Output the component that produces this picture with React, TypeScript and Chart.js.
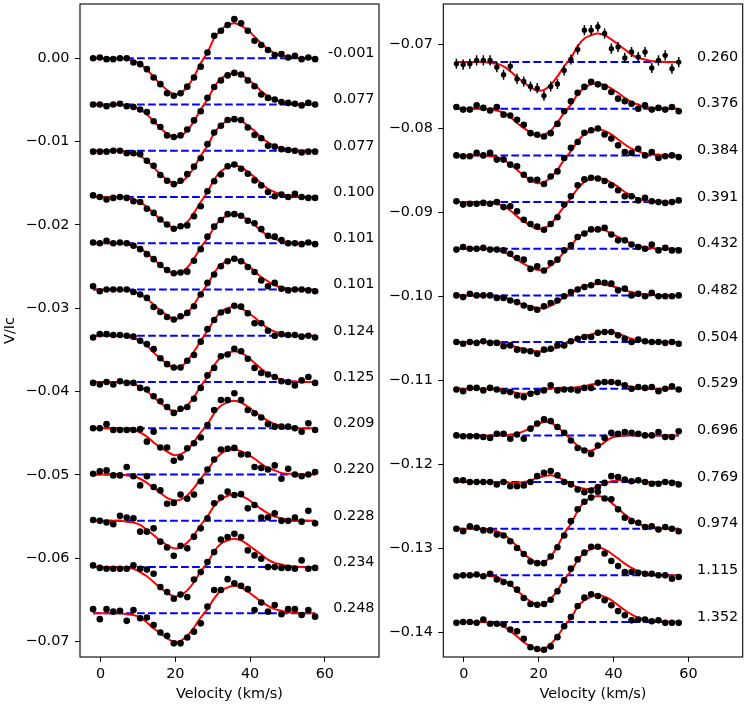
import React, { useEffect, useRef } from "react";
import { Chart, registerables } from "chart.js";

Chart.register(...registerables);

// Velocity grid (km/s)
const velocities = [-2.0, -0.2, 1.6, 3.4, 5.2, 7.0, 8.8, 10.6, 12.4, 14.2, 16.0, 17.8, 19.6, 21.4, 23.2, 25.0, 26.8, 28.6, 30.4, 32.2, 34.0, 35.8, 37.6, 39.4, 41.2, 43.0, 44.8, 46.6, 48.4, 50.2, 52.0, 53.8, 55.6, 57.4];

// Rotational phases (labels)
const leftPhases = ["-0.001", "0.077", "0.077", "0.100", "0.101", "0.101", "0.124", "0.125", "0.209", "0.220", "0.228", "0.234", "0.248"];
const rightPhases = ["0.260", "0.376", "0.384", "0.391", "0.432", "0.482", "0.504", "0.529", "0.696", "0.769", "0.974", "1.115", "1.352"];

// Vertical offsets of each profile (V/Ic)
const leftBaselines = [0, -0.00555, -0.0111, -0.01665, -0.0222, -0.02775, -0.0333, -0.03885, -0.0444, -0.04995, -0.0555, -0.06105, -0.0666];
const rightBaselines = [-0.07215, -0.0777, -0.08325, -0.0888, -0.09435, -0.0999, -0.10545, -0.111, -0.11655, -0.1221, -0.12765, -0.1332, -0.13875];

// Observed Stokes V (units of 1e-4, relative to each offset)
const leftObserved = [
  [0, 1, -1, -1, 0, 0, -5, -7, -13, -23, -31, -42, -45, -42, -34, -23, -10, 7, 27, 33, 40, 47, 42, 33, 21, 16, 10, 4, 5, 1, 3, -1, 1, -1],
  [0, 0, -2, 0, 1, -2, -3, -6, -9, -20, -27, -37, -39, -37, -30, -19, -8, 8, 21, 29, 35, 38, 36, 29, 22, 12, 8, 6, 3, 2, 1, -1, 2, 0],
  [-1, -1, -1, 0, 0, -3, -3, -4, -12, -18, -29, -36, -40, -36, -28, -19, -9, 8, 22, 30, 37, 38, 37, 28, 19, 15, 6, 5, 2, 1, 0, -2, -1, -1],
  [2, 0, -3, -1, 0, -1, -5, -6, -14, -19, -27, -33, -38, -35, -34, -23, -11, 7, 19, 27, 37, 39, 34, 28, 20, 14, 6, 1, 3, 0, 4, 0, -1, -1],
  [1, 0, 3, 0, 1, 0, -3, -7, -13, -19, -26, -32, -36, -35, -34, -21, -7, 8, 20, 28, 35, 35, 33, 27, 24, 17, 9, 8, 4, 0, 0, -1, 1, -1],
  [4, -2, 0, 0, 0, 0, -3, -6, -10, -21, -27, -33, -36, -32, -28, -20, -6, 8, 18, 28, 34, 37, 34, 27, 21, 11, 4, 8, 1, -1, 0, 0, -1, -2],
  [-2, 2, 2, 1, 1, 0, -1, -6, -10, -16, -27, -34, -38, -38, -30, -23, -7, 8, 19, 28, 30, 36, 35, 27, 15, 15, 6, 0, 2, 1, 1, -1, 0, -2],
  [-1, -3, 0, -3, 1, -1, -1, -7, -9, -17, -23, -30, -37, -32, -30, -20, -7, 8, 17, 31, 33, 40, 37, 28, 17, 11, 9, 6, 1, 0, -4, 2, 6, -1],
  [0, 0, 5, -2, -2, -2, -2, -1, -16, -4, -23, -23, -39, -35, -24, -18, -11, 4, 22, 34, 34, 42, 34, 22, 18, 13, 5, 2, 2, 2, 0, -4, 6, -2],
  [1, 4, 5, -1, -1, 9, -2, -13, -2, -15, -19, -35, -34, -24, -29, -24, -8, 6, 18, 30, 31, 32, 24, 24, 9, 8, 6, 11, -5, 7, 0, -2, 0, 3],
  [1, 0, -2, -4, 6, 4, 3, -13, -13, -9, -25, -32, -42, -30, -33, -19, -9, 3, 21, 28, 35, 31, 32, 15, 19, 4, 4, 9, 0, 0, 4, -1, 12, -3],
  [2, -1, -2, -2, -2, -2, 2, -2, -3, -8, -24, -30, -38, -33, -36, -15, -6, 6, 18, 33, 36, 40, 36, 20, 14, 10, 0, 0, -1, -1, -2, 8, -2, -1],
  [5, -7, 5, 2, 3, -9, 4, -6, -5, -14, -23, -27, -36, -36, -29, -22, -12, 8, 28, 28, 41, 36, 33, 29, 4, 13, 2, 10, -1, 5, 5, -2, 4, -4],
];
const rightObserved = [
  [-2, -3, -2, 2, 2, 2, -6, -15, -5, -20, -23, -29, -31, -40, -29, -26, -10, 3, 15, 38, 38, 42, 34, 16, 18, 5, 12, 6, 12, -7, 2, 8, -8, 0],
  [2, -1, -1, 4, 1, -2, 2, -7, -8, -13, -19, -29, -31, -33, -29, -18, -3, 9, 19, 26, 32, 29, 26, 20, 12, 9, 6, 0, 4, -1, 1, -1, 2, -3],
  [0, -1, -1, 3, 0, 3, -5, -5, -11, -13, -23, -29, -29, -34, -25, -19, -3, 9, 16, 27, 30, 32, 25, 20, 12, 4, 3, 8, 0, 4, -3, -1, 0, -2],
  [1, -3, -2, -2, -1, -2, 0, -6, -5, -11, -21, -26, -29, -33, -26, -18, -3, 7, 20, 27, 29, 28, 25, 20, 14, 7, 7, 2, 5, 1, 0, -1, 0, 2],
  [-1, 2, 0, 0, 1, -1, -1, -2, -6, -11, -13, -24, -21, -26, -17, -13, -2, 4, 14, 18, 23, 23, 25, 17, 10, 10, 5, 2, 0, 5, -2, 1, -2, -2],
  [0, -2, 2, 0, 0, 0, -3, -3, -6, -8, -12, -15, -17, -13, -9, -6, -1, 4, 7, 10, 12, 16, 15, 14, 6, 8, 0, 2, -1, 3, -1, -1, -1, 0],
  [0, -2, 0, -1, 1, -1, -1, -5, -4, -9, -10, -11, -14, -9, -8, -4, -4, 1, 4, 6, 6, 11, 12, 12, 8, 4, 0, 3, 1, 0, 0, -1, 0, -2],
  [-1, -3, 1, 1, -2, 1, -1, -3, -4, -8, -10, -6, -4, -2, 4, -2, -1, -1, -2, 1, 1, 7, 8, 8, 7, 4, 0, 2, 1, 2, -3, 0, 3, -1],
  [0, -1, -1, -1, -2, -3, 2, 2, -4, 1, -4, 8, 14, 19, 17, 10, 3, -6, -15, -18, -22, -12, -3, 3, 2, 4, 3, 2, 0, 0, 4, -2, -2, 5],
  [2, 2, 0, 0, 0, 0, -3, 0, -5, -5, -4, 0, 7, 11, 13, 8, 0, -3, -9, -12, -10, -6, -1, 7, 6, 3, 1, 2, 0, -2, -2, 0, -1, -3],
  [0, -3, 3, 1, -2, -2, -7, -8, -15, -23, -30, -39, -41, -41, -33, -22, -8, 9, 23, 32, 37, 44, 36, 35, 23, 13, 9, 7, 2, 3, -1, 2, 0, -3],
  [-1, 0, 0, 1, -1, 2, -5, -8, -10, -17, -27, -34, -35, -34, -29, -19, -6, 8, 19, 27, 34, 34, 26, 17, 11, 4, 4, 3, 2, 2, 0, 0, -4, -2],
  [-1, 0, 0, -1, 3, -2, -2, -3, -9, -11, -20, -30, -32, -33, -29, -18, -5, 6, 19, 29, 33, 31, 26, 20, 13, 8, 2, 3, 3, 1, 2, -1, -1, -1],
];

// Model (fit) profiles (units of 1e-4, relative to each offset)
const leftModel = [
  [0, 0, 0, 0, 0, -1, -3, -7, -14, -22, -31, -38, -43, -42, -34, -22, -6, 7, 24, 34, 40, 42, 39, 34, 26, 18, 11, 6, 3, 2, 1, 0, 0, 0],
  [0, 0, 0, 0, 0, -1, -3, -6, -12, -20, -28, -35, -39, -38, -31, -20, -6, 6, 21, 31, 36, 38, 36, 30, 24, 16, 10, 6, 3, 2, 1, 0, 0, 0],
  [0, 0, 0, 0, 0, -1, -3, -6, -12, -20, -28, -35, -39, -38, -31, -20, -6, 6, 21, 31, 36, 38, 36, 30, 24, 16, 10, 6, 3, 2, 1, 0, 0, 0],
  [0, 0, 0, 0, 0, -1, -3, -6, -12, -19, -27, -33, -37, -36, -30, -19, -6, 6, 21, 31, 36, 38, 36, 30, 24, 16, 10, 6, 3, 2, 1, 0, 0, 0],
  [0, 0, 0, 0, 0, -1, -3, -6, -12, -19, -26, -32, -36, -35, -29, -18, -5, 6, 19, 29, 33, 35, 33, 28, 22, 15, 9, 5, 3, 1, 1, 0, 0, 0],
  [0, 0, 0, 0, 0, -1, -2, -6, -11, -18, -25, -31, -35, -34, -28, -18, -5, 6, 20, 30, 34, 36, 34, 29, 22, 15, 10, 5, 3, 1, 1, 0, 0, 0],
  [0, 0, 0, 0, 0, -1, -3, -6, -12, -20, -27, -34, -38, -37, -30, -19, -6, 6, 19, 29, 33, 35, 33, 28, 22, 15, 9, 5, 3, 1, 1, 0, 0, 0],
  [0, 0, 0, 0, 0, -1, -2, -6, -11, -18, -25, -31, -35, -34, -28, -18, -5, 6, 20, 30, 35, 37, 35, 30, 23, 16, 10, 6, 3, 1, 1, 0, 0, 0],
  [0, 0, 0, 0, 0, -1, -2, -5, -10, -17, -23, -28, -32, -31, -26, -16, -5, 5, 18, 27, 31, 33, 31, 26, 20, 14, 9, 5, 3, 1, 1, 0, 0, 0],
  [0, 0, 0, 0, 0, -1, -2, -5, -10, -16, -22, -28, -31, -30, -25, -16, -5, 5, 17, 25, 29, 30, 28, 24, 19, 13, 8, 5, 2, 1, 1, 0, 0, 0],
  [0, 0, 0, 0, 0, -1, -2, -5, -11, -17, -24, -29, -33, -32, -26, -17, -5, 5, 18, 26, 30, 32, 30, 26, 20, 14, 9, 5, 3, 1, 1, 0, 0, 0],
  [0, 0, 0, 0, 0, -1, -2, -6, -11, -18, -25, -31, -35, -34, -28, -18, -5, 5, 19, 28, 32, 34, 32, 27, 21, 15, 9, 5, 3, 1, 1, 0, 0, 0],
  [0, 0, 0, 0, 0, -1, -2, -5, -11, -18, -24, -30, -34, -33, -27, -17, -5, 5, 18, 27, 31, 33, 31, 26, 20, 14, 9, 5, 3, 1, 1, 0, 0, 0],
];
const rightModel = [
  [0, 0, 0, 0, 0, -1, -2, -5, -11, -18, -24, -30, -34, -33, -27, -17, -5, 5, 19, 28, 32, 34, 32, 27, 21, 15, 9, 5, 3, 1, 1, 0, 0, 0],
  [0, 0, 0, 0, 0, -1, -2, -5, -10, -17, -23, -28, -32, -31, -26, -16, -5, 5, 17, 25, 29, 30, 28, 24, 19, 13, 8, 5, 2, 1, 1, 0, 0, 0],
  [0, 0, 0, 0, 0, -1, -2, -5, -11, -17, -24, -29, -33, -32, -26, -17, -5, 5, 17, 25, 29, 31, 29, 25, 19, 13, 8, 5, 2, 1, 1, 0, 0, 0],
  [0, 0, 0, 0, 0, -1, -2, -5, -10, -17, -23, -28, -32, -31, -26, -16, -5, 5, 16, 24, 28, 29, 27, 23, 18, 12, 8, 4, 2, 1, 1, 0, 0, 0],
  [0, 0, 0, 0, 0, -1, -2, -4, -8, -13, -18, -22, -25, -25, -20, -13, -4, 4, 13, 19, 22, 23, 22, 18, 14, 10, 6, 3, 2, 1, 0, 0, 0, 0],
  [0, 0, 0, 0, 0, 0, -1, -2, -5, -8, -11, -13, -15, -15, -12, -8, -2, 2, 8, 11, 13, 14, 13, 11, 9, 6, 4, 2, 1, 1, 0, 0, 0, 0],
  [0, 0, 0, 0, 0, 0, -1, -2, -4, -6, -8, -10, -11, -11, -9, -6, -3, 1, 4, 7, 9, 11, 12, 12, 10, 7, 4, 2, 1, 0, 0, 0, 0, 0],
  [0, 0, 0, 0, 0, 0, 0, -1, -3, -5, -6, -5, -3, -1, 0, 1, 1, 1, 2, 3, 5, 6, 7, 7, 6, 4, 2, 1, 0, 0, 0, 0, 0, 0],
  [0, 0, 0, 0, 0, 0, 0, 0, 1, 2, 5, 9, 13, 16, 15, 10, 3, -5, -12, -17, -18, -14, -8, -3, -1, 0, 0, 0, 0, 0, 0, 0, 0, 0],
  [0, 0, 0, 0, 0, 0, 0, 0, -1, -1, 0, 2, 5, 7, 8, 6, 2, -3, -6, -8, -8, -5, -2, 1, 2, 2, 1, 1, 0, 0, 0, 0, 0, 0],
  [0, 0, 0, 0, 0, -1, -3, -7, -13, -21, -30, -36, -41, -40, -33, -21, -6, 6, 21, 32, 37, 39, 37, 31, 24, 17, 11, 6, 3, 2, 1, 0, 0, 0],
  [0, 0, 0, 0, 0, -1, -2, -6, -11, -18, -25, -31, -35, -34, -28, -18, -5, 5, 18, 27, 31, 33, 31, 26, 20, 14, 9, 5, 3, 1, 1, 0, 0, 0],
  [0, 0, 0, 0, 0, -1, -2, -5, -11, -17, -24, -29, -33, -32, -26, -17, -5, 5, 18, 26, 30, 32, 30, 26, 20, 14, 9, 5, 3, 1, 1, 0, 0, 0],
];

// Error bar half-lengths (units of 1e-4)
const leftErrors = [1, 1, 1, 1, 1, 1, 1, 1, 1, 2, 2, 2, 2];
const rightErrors = [6, 1, 1, 1, 1, 1, 1, 1, 1, 1, 1, 1, 1];

// Axis ticks
const xTicks = [0, 20, 40, 60];
const leftYTicks = [0, -0.01, -0.02, -0.03, -0.04, -0.05, -0.06, -0.07];
const rightYTicks = [-0.07, -0.08, -0.09, -0.1, -0.11, -0.12, -0.13, -0.14];

const UNIT = 1e-4;
const FONT = "'DejaVu Sans', 'Liberation Sans', sans-serif";
const FONT_SIZE = 14.4;

type Panel = {
  observed: number[][];
  model: number[][];
  baselines: number[];
  phases: string[];
  errors: number[];
  radii: number[];
  yMin: number;
  yMax: number;
  yTicks: number[];
  yTitle: string | null;
  yWidth: number;
  padRight: number;
};

const fmtY = (v: number) => {
  const r = Math.round(v * 100) / 100;
  if (Math.abs(r) < 1e-9) return "0.00";
  return (r < 0 ? "\u2212" : "") + Math.abs(r).toFixed(2);
};

function buildConfig(p: Panel): any {
  const datasets: any[] = [];
  p.observed.forEach((row, r) => {
    datasets.push({
      label: "obs " + p.phases[r],
      data: row.map((v, i) => ({ x: velocities[i], y: p.baselines[r] + v * UNIT })),
      showLine: false,
      pointRadius: p.radii[r],
      pointBackgroundColor: "#000000",
      pointBorderColor: "#000000",
      pointBorderWidth: 0,
      order: 0,
    });
  });
  p.model.forEach((row, r) => {
    datasets.push({
      label: "fit " + p.phases[r],
      data: row.map((v, i) => ({ x: velocities[i], y: p.baselines[r] + v * UNIT })),
      showLine: true,
      borderColor: "#ff0000",
      borderWidth: 2,
      pointRadius: 0,
      tension: 0.4,
      fill: false,
      order: 1,
    });
  });
  p.baselines.forEach((b, r) => {
    datasets.push({
      label: "zero " + p.phases[r],
      data: [
        { x: velocities[0], y: b },
        { x: velocities[velocities.length - 1], y: b },
      ],
      showLine: true,
      borderColor: "#0000ff",
      borderWidth: 2,
      borderDash: [7.7, 3.3],
      pointRadius: 0,
      fill: false,
      order: 2,
    });
  });

  const overlay = {
    id: "overlay",
    afterDatasetsDraw(chart: any) {
      const { ctx, chartArea, scales } = chart;
      const xs = scales.x;
      const ys = scales.y;
      ctx.save();
      ctx.strokeStyle = "#000";
      ctx.lineWidth = 1.5;
      p.observed.forEach((row, r) => {
        const e = p.errors[r] * UNIT;
        ctx.beginPath();
        row.forEach((v, i) => {
          const x = xs.getPixelForValue(velocities[i]);
          const y = p.baselines[r] + v * UNIT;
          ctx.moveTo(x, ys.getPixelForValue(y + e));
          ctx.lineTo(x, ys.getPixelForValue(y - e));
        });
        ctx.stroke();
      });
      ctx.fillStyle = "#000";
      ctx.font = FONT_SIZE + "px " + FONT;
      ctx.textAlign = "right";
      ctx.textBaseline = "middle";
      p.phases.forEach((ph, r) => {
        ctx.fillText(ph, chartArea.right - 4.5, ys.getPixelForValue(p.baselines[r]) - 5);
      });
      ctx.lineWidth = 1.1;
      ctx.strokeStyle = "#000";
      ctx.strokeRect(chartArea.left, chartArea.top, chartArea.right - chartArea.left, chartArea.bottom - chartArea.top);
      ctx.restore();
    },
  };

  const tickFont = { family: FONT, size: FONT_SIZE };
  const gridOpts = {
    display: true,
    drawOnChartArea: false,
    drawTicks: true,
    tickLength: 5,
    color: "#000000",
    lineWidth: 1,
  };

  return {
    type: "line",
    data: { datasets },
    plugins: [overlay],
    options: {
      animation: false,
      responsive: false,
      maintainAspectRatio: false,
      events: [],
      layout: { autoPadding: false, padding: { left: 0, right: p.padRight, top: 4, bottom: 0 } },
      plugins: { legend: { display: false }, tooltip: { enabled: false }, title: { display: false } },
      scales: {
        x: {
          type: "linear",
          min: -5.5,
          max: 74.5,
          afterBuildTicks: (s: any) => {
            s.ticks = xTicks.map((v) => ({ value: v }));
          },
          afterFit: (s: any) => {
            s.height = 50;
            s.paddingLeft = 0;
            s.paddingRight = 0;
            s.paddingTop = 0;
            s.paddingBottom = 0;
          },
          ticks: {
            color: "#000000",
            font: tickFont,
            padding: 4,
            maxRotation: 0,
            autoSkip: false,
            callback: (v: any) => String(v),
          },
          grid: gridOpts,
          border: { display: false },
          title: {
            display: true,
            text: "Velocity (km/s)",
            color: "#000000",
            font: tickFont,
            padding: { top: 0, bottom: 3.6 },
          },
        },
        y: {
          type: "linear",
          min: p.yMin,
          max: p.yMax,
          afterBuildTicks: (s: any) => {
            s.ticks = p.yTicks.map((v) => ({ value: v }));
          },
          afterFit: (s: any) => {
            s.width = p.yWidth;
            s.paddingLeft = 0;
            s.paddingRight = 0;
            s.paddingTop = 0;
            s.paddingBottom = 0;
          },
          ticks: {
            color: "#000000",
            font: tickFont,
            padding: 5.5,
            autoSkip: false,
            callback: (v: any) => fmtY(Number(v)),
          },
          grid: gridOpts,
          border: { display: false },
          title: {
            display: p.yTitle !== null,
            text: p.yTitle || "",
            color: "#000000",
            font: tickFont,
            padding: { top: 2, bottom: 0 },
          },
        },
      },
    },
  };
}

const leftPanel: Panel = {
  observed: leftObserved,
  model: leftModel,
  baselines: leftBaselines,
  phases: leftPhases,
  errors: leftErrors,
  radii: leftPhases.map(() => 3.3),
  yMin: -0.07184,
  yMax: 0.006516,
  yTicks: leftYTicks,
  yTitle: "V/Ic",
  yWidth: 80,
  padRight: 1,
};

const rightPanel: Panel = {
  observed: rightObserved,
  model: rightModel,
  baselines: rightBaselines,
  phases: rightPhases,
  errors: rightErrors,
  radii: rightPhases.map((_, i) => (i === 0 ? 2.7 : 3.3)),
  yMin: -0.14291,
  yMax: -0.06524,
  yTicks: rightYTicks,
  yTitle: null,
  yWidth: 63.3,
  padRight: 4.3,
};

export default function App() {
  const leftRef = useRef<HTMLCanvasElement>(null);
  const rightRef = useRef<HTMLCanvasElement>(null);

  useEffect(() => {
    const c1 = new Chart(leftRef.current as HTMLCanvasElement, buildConfig(leftPanel));
    const c2 = new Chart(rightRef.current as HTMLCanvasElement, buildConfig(rightPanel));
    return () => {
      c1.destroy();
      c2.destroy();
    };
  }, []);

  return (
    <div style={{ position: "absolute", left: 0, top: 0, width: 747, height: 707, background: "#ffffff" }}>
      <canvas
        ref={leftRef}
        width={380}
        height={707}
        style={{ position: "absolute", left: 0, top: 0, width: 380, height: 707 }}
      />
      <canvas
        ref={rightRef}
        width={367}
        height={707}
        style={{ position: "absolute", left: 380, top: 0, width: 367, height: 707 }}
      />
    </div>
  );
}
